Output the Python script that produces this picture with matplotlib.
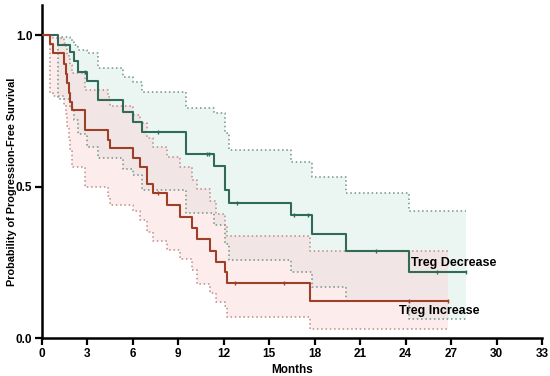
import numpy as np
import matplotlib
matplotlib.use("Agg")
import matplotlib.pyplot as plt

plt.rcParams['font.family'] = ['Liberation Sans', 'DejaVu Sans']

# ---- Treg Decrease (green) ----
green_t = [0, 1.08, 1.85, 2.1, 2.4, 3.0, 3.72, 5.37, 6.03, 6.58, 9.5, 11.35, 12.08, 12.37, 16.45, 17.84, 20.05, 24.2, 28.0]
green_s = [1.0, 0.968, 0.946, 0.914, 0.88, 0.849, 0.785, 0.747, 0.714, 0.681, 0.609, 0.567, 0.488, 0.447, 0.405, 0.344, 0.286, 0.217, 0.217]
green_hi = [1.0, 0.995, 0.985, 0.968, 0.952, 0.94, 0.891, 0.863, 0.847, 0.814, 0.758, 0.742, 0.676, 0.62, 0.581, 0.532, 0.479, 0.418, 0.418]
green_lo = [1.0, 0.79, 0.76, 0.72, 0.675, 0.63, 0.593, 0.559, 0.537, 0.488, 0.412, 0.372, 0.31, 0.258, 0.217, 0.167, 0.123, 0.064, 0.064]
green_censor = [2.84, 7.67, 10.87, 11.04, 12.85, 16.63, 17.56, 22.05, 26.05, 28.0]

# ---- Treg Increase (red) ----
red_t = [0, 0.5, 0.75, 1.45, 1.55, 1.62, 1.75, 1.85, 1.96, 2.84, 4.38, 4.49, 6.03, 6.5, 6.95, 7.35, 8.23, 9.1, 9.88, 10.25, 11.09, 11.46, 12.08, 12.23, 17.69, 26.8]
red_s = [1.0, 0.97, 0.94, 0.905, 0.873, 0.841, 0.81, 0.78, 0.753, 0.687, 0.655, 0.626, 0.594, 0.565, 0.51, 0.48, 0.44, 0.40, 0.364, 0.327, 0.289, 0.252, 0.219, 0.182, 0.121, 0.121]
red_hi = [1.0, 1.0, 0.99, 0.975, 0.955, 0.935, 0.92, 0.90, 0.875, 0.82, 0.795, 0.765, 0.735, 0.71, 0.66, 0.631, 0.598, 0.565, 0.521, 0.493, 0.454, 0.41, 0.371, 0.338, 0.289, 0.289]
red_lo = [1.0, 0.81, 0.80, 0.77, 0.74, 0.70, 0.66, 0.62, 0.565, 0.498, 0.47, 0.438, 0.42, 0.39, 0.35, 0.32, 0.29, 0.261, 0.225, 0.178, 0.15, 0.12, 0.105, 0.07, 0.029, 0.029]
red_censor = [7.68, 12.74, 16.0, 24.2, 26.8]

x_ticks = [0, 3, 6, 9, 12, 15, 18, 21, 24, 27, 30, 33]
y_ticks = [0.0, 0.5, 1.0]
y_ticklabels = ["0.0", "0.5", "1.0"]

fig = plt.figure(figsize=(5.5, 3.76), dpi=100)
ax = fig.add_axes([0.0764, 0.101, 0.909, 0.886])

def draw(t, s, lo, hi, censor, line_c, ci_c, fill_c):
    ax.fill_between(t, lo, hi, step='post', color=fill_c, alpha=0.4, linewidth=0)
    ax.step(t, hi, where='post', color=ci_c, linestyle=(0, (1, 1.8)), linewidth=1.1)
    ax.step(t, lo, where='post', color=ci_c, linestyle=(0, (1, 1.8)), linewidth=1.1)
    ax.step(t, s, where='post', color=line_c, linewidth=1.5, zorder=5)
    t_arr = np.asarray(t)
    s_arr = np.asarray(s)
    idx = np.searchsorted(t_arr, censor, side='right') - 1
    ax.plot(censor, s_arr[idx], linestyle='none', marker='|', markersize=3.5,
            markeredgewidth=1.0, color=line_c, zorder=6)

draw(green_t, green_s, green_lo, green_hi, green_censor,
     '#2f6b58', '#6f9487', '#cfeae2')
draw(red_t, red_s, red_lo, red_hi, red_censor,
     '#9e3f2a', '#c08a88', '#fbd0d0')

ax.text(24.36, 0.249, "Treg Decrease", fontsize=9, fontweight='bold', va='center', ha='left', zorder=7)
ax.text(23.56, 0.09, "Treg Increase", fontsize=9, fontweight='bold', va='center', ha='left', zorder=7)

ax.set_xlim(0, 33)
ax.set_ylim(0, 1.1)
ax.set_xticks(x_ticks)
ax.set_xticklabels([str(v) for v in x_ticks], fontsize=8.5, fontweight='bold')
ax.set_yticks(y_ticks)
ax.set_yticklabels(y_ticklabels, fontsize=8.5, fontweight='bold')
ax.tick_params(axis='both', direction='out', length=5, width=1.6, pad=2)
for side in ['top', 'right']:
    ax.spines[side].set_visible(False)
for side in ['left', 'bottom']:
    ax.spines[side].set_linewidth(1.8)
ax.set_xlabel("Months", fontsize=8.5, fontweight='bold', labelpad=3)
ax.set_ylabel("Probability of Progression-Free Survival", fontsize=7.8, fontweight='bold', labelpad=2)
ax.yaxis.set_label_coords(-0.05, 0.47)

fig.savefig("out.png", dpi=100)
